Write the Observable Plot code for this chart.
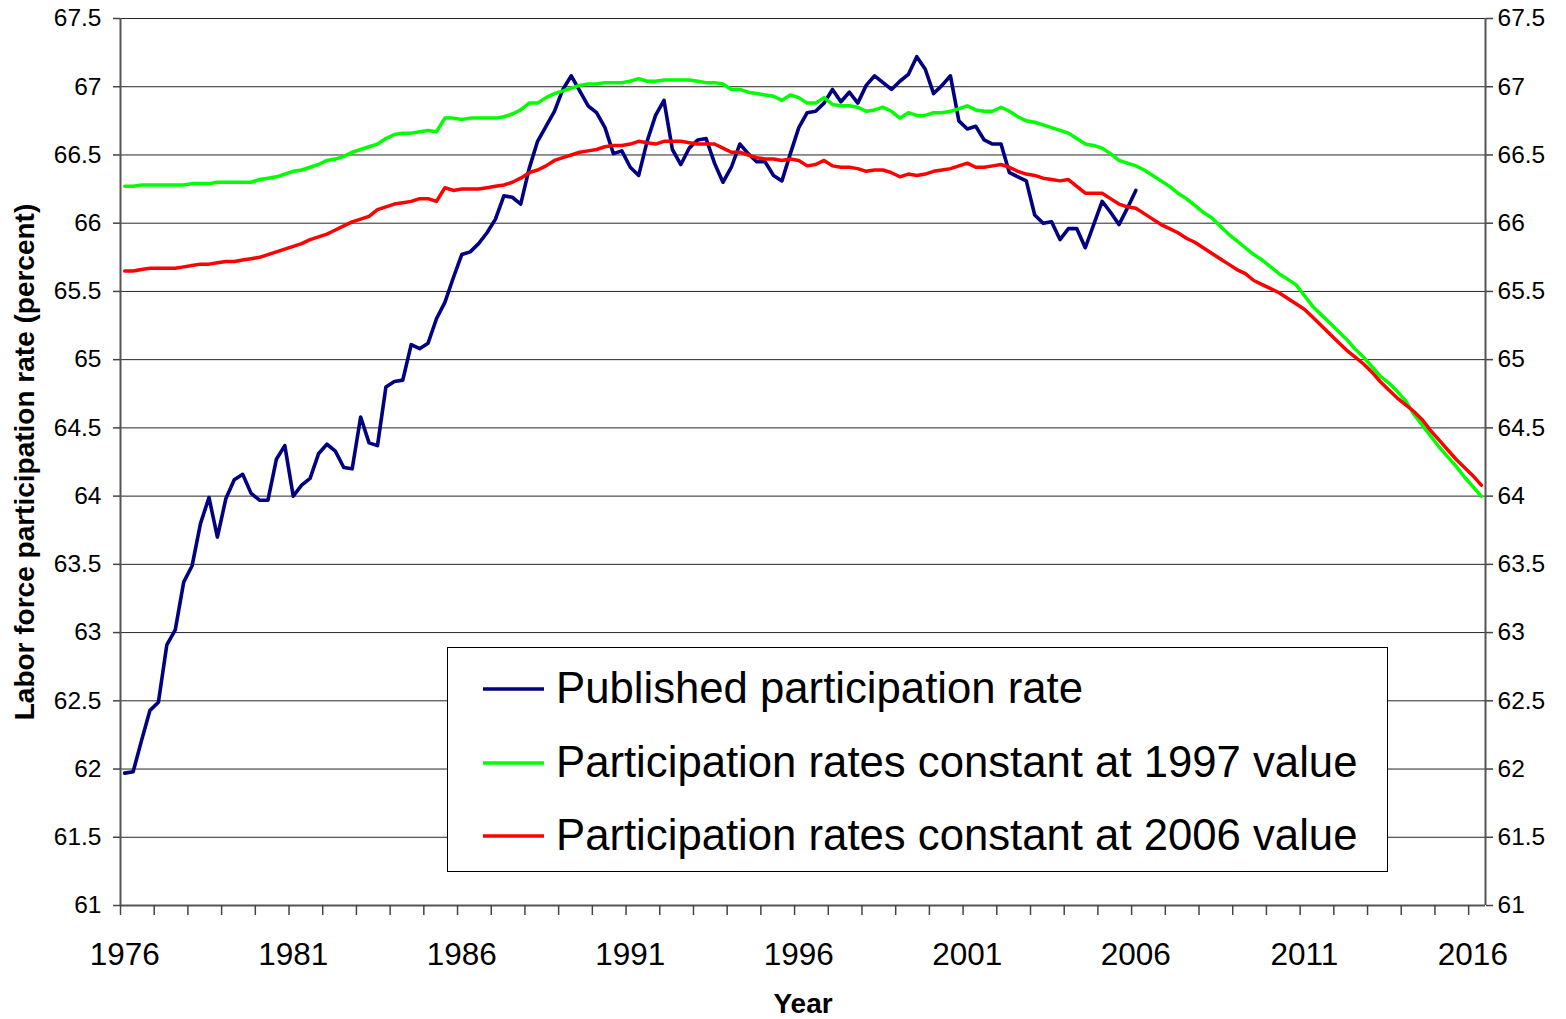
<!DOCTYPE html>
<html>
<head>
<meta charset="utf-8">
<script src="https://cdn.jsdelivr.net/npm/d3@7"></script>
<script src="https://cdn.jsdelivr.net/npm/@observablehq/plot@0.6"></script>
<style>
  html, body { margin: 0; padding: 0; background: #fff; }
  #wrap { position: relative; width: 1566px; height: 1019px; font-family: 'Liberation Sans', Arial, sans-serif; }
  #legend { position: absolute; left: 447px; top: 647px; width: 941px; height: 225px; border: 1px solid #000; background: #fff; box-sizing: border-box; }
  .item { position: absolute; left: 0; height: 0; }
  .item svg { position: absolute; left: 34px; top: -4px; }
  .item span { position: absolute; left: 108px; top: -26px; font-size: 43.7px; line-height: 50px; white-space: nowrap; color: #000; }
</style>
</head>
<body>
<div id="wrap"><div id="chart"></div><div id="legend"></div></div>
<script>
// ---- data (quarterly, first value = 1976 Q1) ----
const startYear = 1976;
const seriesNames = ["Published participation rate", "Participation rates constant at 1997 value", "Participation rates constant at 2006 value"];
const seriesColors = ["#000080", "#00FF00", "#FF0000"];

const published = [
  61.97, 61.98, 62.21, 62.43, 62.49, 62.91, 63.02, 63.37, 63.49, 63.80,
  63.99, 63.70, 63.98, 64.12, 64.16, 64.02, 63.97, 63.97, 64.27, 64.37,
  64.00, 64.08, 64.13, 64.31, 64.38, 64.33, 64.21, 64.20, 64.58, 64.39,
  64.37, 64.80, 64.84, 64.85, 65.11, 65.08, 65.12, 65.30, 65.42, 65.60,
  65.77, 65.79, 65.85, 65.93, 66.03, 66.20, 66.19, 66.14, 66.40, 66.60,
  66.71, 66.82, 66.98, 67.08, 66.97, 66.86, 66.81, 66.70, 66.51, 66.53,
  66.41, 66.35, 66.60, 66.79, 66.90, 66.54, 66.43, 66.55, 66.61, 66.62,
  66.44, 66.30, 66.41, 66.58, 66.51, 66.45, 66.45, 66.35, 66.31, 66.51,
  66.70, 66.81, 66.82, 66.88, 66.98, 66.89, 66.96, 66.88, 67.01, 67.08,
  67.03, 66.98, 67.04, 67.09, 67.22, 67.13, 66.95, 67.01, 67.08, 66.75,
  66.69, 66.71, 66.61, 66.58, 66.58, 66.37, 66.34, 66.31, 66.06, 66.00,
  66.01, 65.88, 65.96, 65.96, 65.82, 65.99, 66.16, 66.08, 65.99, 66.11,
  66.24
];

const constant1997 = [
  66.27, 66.27, 66.28, 66.28, 66.28, 66.28, 66.28, 66.28, 66.29, 66.29,
  66.29, 66.30, 66.30, 66.30, 66.30, 66.30, 66.32, 66.33, 66.34, 66.36,
  66.38, 66.39, 66.41, 66.43, 66.46, 66.47, 66.49, 66.52, 66.54, 66.56,
  66.58, 66.62, 66.65, 66.66, 66.66, 66.67, 66.68, 66.67, 66.77, 66.77,
  66.76, 66.77, 66.77, 66.77, 66.77, 66.78, 66.80, 66.83, 66.88, 66.88,
  66.92, 66.95, 66.97, 66.99, 67.01, 67.02, 67.02, 67.03, 67.03, 67.03,
  67.04, 67.06, 67.04, 67.04, 67.05, 67.05, 67.05, 67.05, 67.04, 67.03,
  67.03, 67.02, 66.98, 66.98, 66.96, 66.95, 66.94, 66.93, 66.90, 66.94,
  66.92, 66.88, 66.88, 66.92, 66.87, 66.86, 66.86, 66.85, 66.82, 66.83,
  66.85, 66.82, 66.77, 66.81, 66.79, 66.79, 66.81, 66.81, 66.82, 66.84,
  66.86, 66.83, 66.82, 66.82, 66.85, 66.82, 66.78, 66.75, 66.74, 66.72,
  66.70, 66.68, 66.66, 66.62, 66.58, 66.57, 66.55, 66.51, 66.46, 66.44,
  66.42, 66.39, 66.35, 66.31, 66.27, 66.22, 66.18, 66.13, 66.08, 66.04,
  65.98, 65.92, 65.87, 65.82, 65.77, 65.73, 65.68, 65.63, 65.59, 65.55,
  65.47, 65.39, 65.33, 65.27, 65.21, 65.15, 65.08, 65.02, 64.95, 64.88,
  64.83, 64.77, 64.70, 64.60, 64.52, 64.44, 64.36, 64.29, 64.22, 64.14,
  64.07, 64.00
];

const constant2006 = [
  65.65, 65.65, 65.66, 65.67, 65.67, 65.67, 65.67, 65.68, 65.69, 65.70,
  65.70, 65.71, 65.72, 65.72, 65.73, 65.74, 65.75, 65.77, 65.79, 65.81,
  65.83, 65.85, 65.88, 65.90, 65.92, 65.95, 65.98, 66.01, 66.03, 66.05,
  66.10, 66.12, 66.14, 66.15, 66.16, 66.18, 66.18, 66.16, 66.26, 66.24,
  66.25, 66.25, 66.25, 66.26, 66.27, 66.28, 66.30, 66.33, 66.37, 66.39,
  66.42, 66.46, 66.48, 66.50, 66.52, 66.53, 66.54, 66.56, 66.57, 66.57,
  66.58, 66.60, 66.59, 66.58, 66.60, 66.60, 66.60, 66.59, 66.58, 66.58,
  66.58, 66.55, 66.52, 66.52, 66.50, 66.48, 66.47, 66.47, 66.46, 66.47,
  66.46, 66.42, 66.43, 66.46, 66.42, 66.41, 66.41, 66.40, 66.38, 66.39,
  66.39, 66.37, 66.34, 66.36, 66.35, 66.36, 66.38, 66.39, 66.40, 66.42,
  66.44, 66.41, 66.41, 66.42, 66.43, 66.41, 66.38, 66.36, 66.35, 66.33,
  66.32, 66.31, 66.32, 66.27, 66.22, 66.22, 66.22, 66.18, 66.14, 66.12,
  66.11, 66.07, 66.03, 65.99, 65.96, 65.93, 65.89, 65.86, 65.82, 65.78,
  65.74, 65.70, 65.66, 65.63, 65.58, 65.55, 65.52, 65.49, 65.45, 65.41,
  65.37, 65.31, 65.25, 65.19, 65.13, 65.07, 65.02, 64.97, 64.91, 64.84,
  64.78, 64.72, 64.67, 64.62, 64.56, 64.48, 64.41, 64.34, 64.27, 64.21,
  64.15, 64.08
];

const yTickValues = [61, 61.5, 62, 62.5, 63, 63.5, 64, 64.5, 65, 65.5, 66, 66.5, 67, 67.5];
const xLabelYears = [1976, 1981, 1986, 1991, 1996, 2001, 2006, 2011, 2016];
const tickYears = d3.range(1976, 2017);

// ---- build tables ----
const toRows = (arr, name) => arr.map((v, i) => ({t: startYear + i / 4, v, name}));
const rowsPub = toRows(published, seriesNames[0]);
const rows97 = toRows(constant1997, seriesNames[1]);
const rows06 = toRows(constant2006, seriesNames[2]);

// category axis: each quarter occupies a band of width 1/4 year
const xDomain = [startYear - 0.125, startYear + (constant1997.length - 1) / 4 + 0.125];
const tickPositions = tickYears.map(y => y - 0.125);
const font = "'Liberation Sans', Arial, sans-serif";

const chart = Plot.plot({
  width: 1566,
  height: 1019,
  marginLeft: 120,
  marginRight: 81,
  marginTop: 18,
  marginBottom: 114,
  style: {fontFamily: font, background: "white", color: "black", overflow: "visible"},
  x: {domain: xDomain, axis: null},
  y: {domain: [61, 67.5], axis: null},
  marks: [
    Plot.ruleY(yTickValues, {stroke: "#000", strokeWidth: 1, strokeOpacity: 0.85}),
    Plot.ruleX(xDomain, {stroke: "#555", strokeWidth: 2}),
    Plot.ruleY([61], {stroke: "#555", strokeWidth: 2}),
    Plot.axisY({anchor: "left", ticks: yTickValues, tickSize: 7, tickPadding: 12, fontSize: 24.5,
      tickFormat: d => String(d), label: null, stroke: "#444", strokeWidth: 1.5}),
    Plot.axisY({anchor: "right", ticks: yTickValues, tickSize: 7, tickPadding: 5, fontSize: 24.5,
      tickFormat: d => String(d), label: null, stroke: "#444", strokeWidth: 1.5}),
    Plot.axisX({anchor: "bottom", ticks: tickPositions, tickSize: 10, tickFormat: () => "",
      label: null, stroke: "#444", strokeWidth: 1.5}),
    Plot.axisX({anchor: "bottom", ticks: xLabelYears, tickSize: 0, tickPadding: 37, fontSize: 31.5,
      tickFormat: d => String(d), label: null}),
    Plot.line(rowsPub, {x: "t", y: "v", stroke: seriesColors[0], strokeWidth: 3.6, strokeLinejoin: "round", strokeLinecap: "round"}),
    Plot.line(rows97, {x: "t", y: "v", stroke: seriesColors[1], strokeWidth: 3.5, strokeLinejoin: "round", strokeLinecap: "round"}),
    Plot.line(rows06, {x: "t", y: "v", stroke: seriesColors[2], strokeWidth: 3.5, strokeLinejoin: "round", strokeLinecap: "round"}),
    Plot.text(["Year"], {text: d => d, frameAnchor: "bottom", dy: 107, fontSize: 28, fontWeight: "bold"}),
    Plot.text(["Labor force participation rate (percent)"], {text: d => d, frameAnchor: "left", textAnchor: "middle",
      dx: -95, rotate: -90, fontSize: 28, fontWeight: "bold"})
  ]
});
document.getElementById("chart").appendChild(chart);

// ---- legend ----
const legend = d3.select("#legend");
const rowTops = [41, 115, 188];
seriesNames.forEach((name, i) => {
  const item = legend.append("div").attr("class", "item").style("top", rowTops[i] + "px");
  const svg = item.append("svg").attr("width", 64).attr("height", 8);
  svg.append("line").attr("x1", 1).attr("x2", 62).attr("y1", 4).attr("y2", 4)
    .attr("stroke", seriesColors[i]).attr("stroke-width", 3.5);
  item.append("span").text(name);
});
</script>
</body>
</html>
